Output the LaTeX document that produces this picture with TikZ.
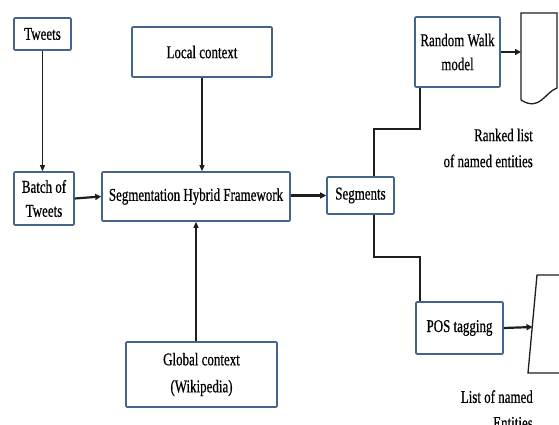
\documentclass[tikz,border=0pt]{standalone}
\usepackage{fontspec}
\setmainfont{Liberation Serif}[FakeStretch=0.72,FakeBold=0.6]
\usetikzlibrary{arrows.meta}
\definecolor{boxblue}{HTML}{45648C}
\definecolor{linegray}{HTML}{1E1E1E}
\tikzset{
  blk/.style={draw=boxblue, line width=1.6pt, rounded corners=1pt, fill=white,
    align=center, inner sep=1pt, font=\fontsize{18}{24}\selectfont},
  conn/.style={draw=linegray, line width=1.4pt},
  thinarr/.style={draw=linegray, line width=1.1pt, -{Triangle[length=6pt,width=5pt]}},
  thickarr/.style={draw=linegray, line width=2.2pt, -{Triangle[length=6pt,width=6pt]}},
  lbl/.style={align=right, inner sep=0pt, font=\fontsize{18}{26}\selectfont},
  shp/.style={draw=linegray, line width=1.3pt}
}
\begin{document}
\begin{tikzpicture}[x=1pt,y=-1pt]
\useasboundingbox (0,0) rectangle (559,425);
\clip (0,0) rectangle (559,425);
\fill[white] (0,0) rectangle (559,425);

\node[blk, minimum width=57pt, minimum height=32pt] (tw) at (42.5,34) {Tweets};
\node[blk, minimum width=140pt, minimum height=50pt] (lc) at (202,52) {Local context};
\node[blk, minimum width=60pt, minimum height=53pt] (bt) at (44,198.5) {Batch of\\Tweets};
\node[blk, minimum width=188pt, minimum height=49pt] (shf) at (196,196.5) {Segmentation Hybrid Framework};
\node[blk, minimum width=67pt, minimum height=37pt] (seg) at (360.5,195.5) {Segments};
\node[blk, minimum width=151pt, minimum height=65pt, font=\fontsize{18}{27}\selectfont] (gc) at (201.5,374.5) {Global context\\(Wikipedia)};
\node[blk, minimum width=85pt, minimum height=70pt] (rw) at (457.5,52) {Random Walk\\model};
\node[blk, minimum width=87pt, minimum height=52pt] (pos) at (459.5,328) {POS tagging};

% document shape (ranked list)
\coordinate (docL) at (521,52);
\draw[shp] (521,100) -- (521,13) -- (557,13) -- (557,88)
  .. controls (545,92) and (540,112) .. (521,100);
% list shape
\coordinate (lstL) at (532.5,327);
\draw[shp] (570,275) -- (537,275) -- (528,373) -- (570,373);

\node[lbl, anchor=east] (rl) at (533,148) {Ranked list\\of named entities};
\node[lbl, anchor=north east] (ln) at (533,390) {List of named\\Entities};

% connectors
\draw[thinarr] (tw.south) -- (tw.south |- bt.north);
\draw[thinarr] (lc.south) -- (lc.south |- shf.north);
\draw[thinarr] (gc.north -| shf.south) -- (shf.south);
\draw[thickarr] (bt.east) -- (shf.west);
\draw[thickarr] (shf.east |- seg.west) -- (seg.west);
\draw[thickarr] (rw.east) -- (docL);
\draw[thickarr] (pos.east) -- (lstL);
\coordinate (segT) at (374,177);
\coordinate (segB) at (374,214);
\draw[conn] (seg.north -| segT) -- (374,129) -- (420,129) -- (rw.south -| 420,0);
\draw[conn] (seg.south -| segB) -- (374,257) -- (420,257) -- (pos.north -| 420,0);
\end{tikzpicture}
\end{document}
